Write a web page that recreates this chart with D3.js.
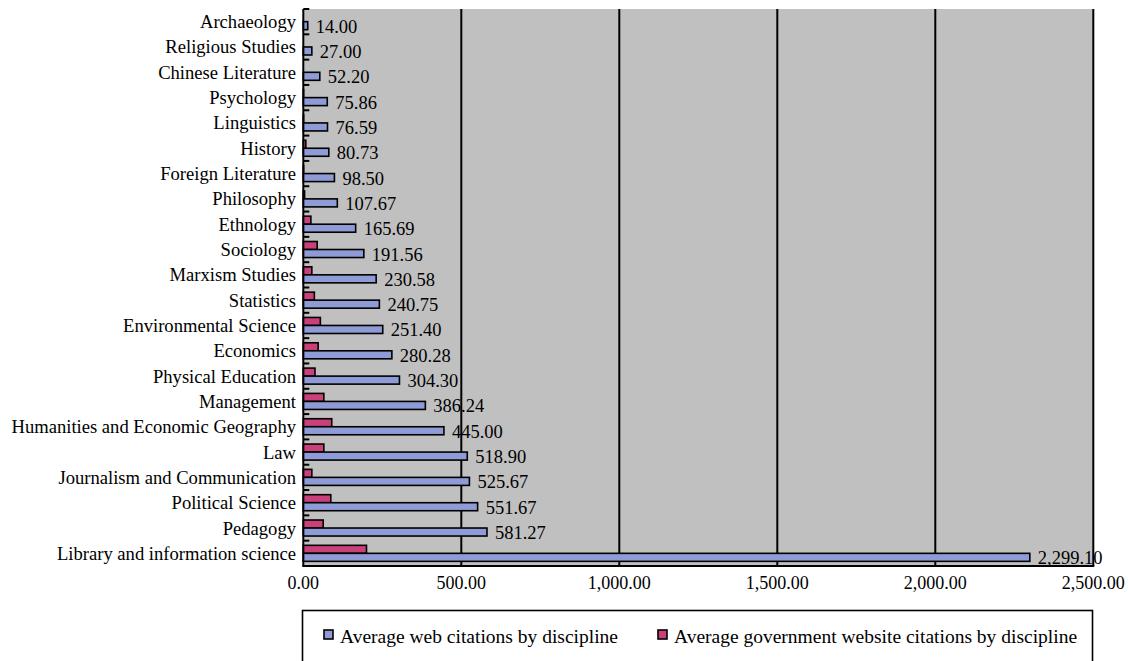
<!DOCTYPE html>
<html>
<head>
<meta charset="utf-8">
<script src="https://cdn.jsdelivr.net/npm/d3@7"></script>
<style>
  html, body { margin: 0; padding: 0; background: #fff; }
  svg { display: block; }
</style>
</head>
<body>
<svg id="chart" width="1128" height="661" font-family="'Liberation Serif', 'Times New Roman', 'DejaVu Serif', serif"></svg>
<script>
// Disciplines, top to bottom
const disciplines = [
  "Archaeology", "Religious Studies", "Chinese Literature", "Psychology",
  "Linguistics", "History", "Foreign Literature", "Philosophy", "Ethnology",
  "Sociology", "Marxism Studies", "Statistics", "Environmental Science",
  "Economics", "Physical Education", "Management",
  "Humanities and Economic Geography", "Law", "Journalism and Communication",
  "Political Science", "Pedagogy", "Library and information science"
];

// Average web citations by discipline
const webCitations = [
  14.00, 27.00, 52.20, 75.86, 76.59, 80.73, 98.50, 107.67, 165.69, 191.56,
  230.58, 240.75, 251.40, 280.28, 304.30, 386.24, 445.00, 518.90, 525.67,
  551.67, 581.27, 2299.10
];

// Average government website citations by discipline
const govCitations = [
  0, 0, 0, 1, 1, 8, 1, 4, 24, 44,
  27, 35, 54, 47, 37, 65, 90, 65, 27,
  87, 63, 200
];

const xTicks = [0, 500, 1000, 1500, 2000, 2500];

const seriesNames = [
  "Average web citations by discipline",
  "Average government website citations by discipline"
];
const seriesKeys = ["gov", "web"];
const colors = { web: "#8e9bd6", gov: "#c9407a" };

const rows = disciplines.map((d, i) => ({
  name: d, web: webCitations[i], gov: govCitations[i]
}));

const svg = d3.select("#chart");
const plot = { left: 303.3, right: 1093.3, top: 9, bottom: 566 };

const x = d3.scaleLinear().domain([0, 2500]).range([plot.left, plot.right]);
const y = d3.scaleBand().domain(disciplines).range([plot.top, plot.bottom]).padding(0);
const sub = d3.scaleBand().domain(seriesKeys).range([0, y.bandwidth()])
  .paddingInner(0).paddingOuter(0.58);

const fmt = d3.format(",.2f");

// plot background
svg.append("rect")
  .attr("x", plot.left).attr("y", plot.top)
  .attr("width", plot.right - plot.left).attr("height", plot.bottom - plot.top)
  .attr("fill", "#c0c0c0");

// vertical gridlines (last one doubles as right border)
svg.append("g").selectAll("line")
  .data(xTicks.slice(1))
  .join("line")
  .attr("x1", d => x(d)).attr("x2", d => x(d))
  .attr("y1", plot.top).attr("y2", plot.bottom)
  .attr("stroke", "#000").attr("stroke-width", 2);

// bars
const groups = svg.append("g").selectAll("g")
  .data(rows)
  .join("g")
  .attr("transform", d => `translate(0,${y(d.name)})`);

groups.selectAll("rect")
  .data(d => seriesKeys.map(k => ({ key: k, value: d[k] })).filter(e => e.value > 0))
  .join("rect")
  .attr("x", x(0))
  .attr("y", e => sub(e.key))
  .attr("width", e => x(e.value) - x(0))
  .attr("height", sub.bandwidth())
  .attr("fill", e => colors[e.key])
  .attr("stroke", "#000")
  .attr("stroke-width", 1.6);

// value labels for web citations
groups.append("text")
  .attr("x", d => x(d.web) + 8)
  .attr("y", d => sub("web") + sub.bandwidth() / 2 + 1)
  .attr("dominant-baseline", "central")
  .attr("font-size", 18.5)
  .attr("fill", "#000")
  .text(d => fmt(d.web));

// y axis line and inside ticks at band boundaries
svg.append("line")
  .attr("x1", plot.left).attr("x2", plot.left)
  .attr("y1", plot.top).attr("y2", plot.bottom)
  .attr("stroke", "#000").attr("stroke-width", 2);
const boundaries = disciplines.map(d => y(d)).concat([plot.bottom]);
svg.append("g").selectAll("line")
  .data(boundaries)
  .join("line")
  .attr("x1", plot.left).attr("x2", plot.left + 6)
  .attr("y1", d => d).attr("y2", d => d)
  .attr("stroke", "#000").attr("stroke-width", 2);

// category labels
svg.append("g").selectAll("text")
  .data(disciplines)
  .join("text")
  .attr("x", 296)
  .attr("y", d => y(d) + y.bandwidth() / 2)
  .attr("text-anchor", "end")
  .attr("dominant-baseline", "central")
  .attr("font-size", 18.6)
  .attr("fill", "#000")
  .text(d => d);

// x axis line
svg.append("line")
  .attr("x1", plot.left - 1).attr("x2", plot.right + 1)
  .attr("y1", plot.bottom).attr("y2", plot.bottom)
  .attr("stroke", "#000").attr("stroke-width", 2);

// x tick labels
svg.append("g").selectAll("text")
  .data(xTicks)
  .join("text")
  .attr("x", d => x(d))
  .attr("y", 582.5)
  .attr("text-anchor", "middle")
  .attr("dominant-baseline", "central")
  .attr("font-size", 18)
  .attr("fill", "#000")
  .text(d => fmt(d));

// legend
const legend = svg.append("g");
legend.append("rect")
  .attr("x", 302.5).attr("y", 610.5)
  .attr("width", 790).attr("height", 70)
  .attr("fill", "#fff").attr("stroke", "#000").attr("stroke-width", 1.6);

const legendItems = [
  { key: "web", label: seriesNames[0], sx: 324 },
  { key: "gov", label: seriesNames[1], sx: 658 }
];
const li = legend.selectAll("g.item")
  .data(legendItems)
  .join("g").attr("class", "item");
li.append("rect")
  .attr("x", d => d.sx).attr("y", 630)
  .attr("width", 9).attr("height", 9)
  .attr("fill", d => colors[d.key])
  .attr("stroke", "#000").attr("stroke-width", 1.6);
li.append("text")
  .attr("x", d => d.sx + 16)
  .attr("y", 636)
  .attr("dominant-baseline", "central")
  .attr("font-size", 19.5)
  .attr("fill", "#000")
  .text(d => d.label);
</script>
</body>
</html>
